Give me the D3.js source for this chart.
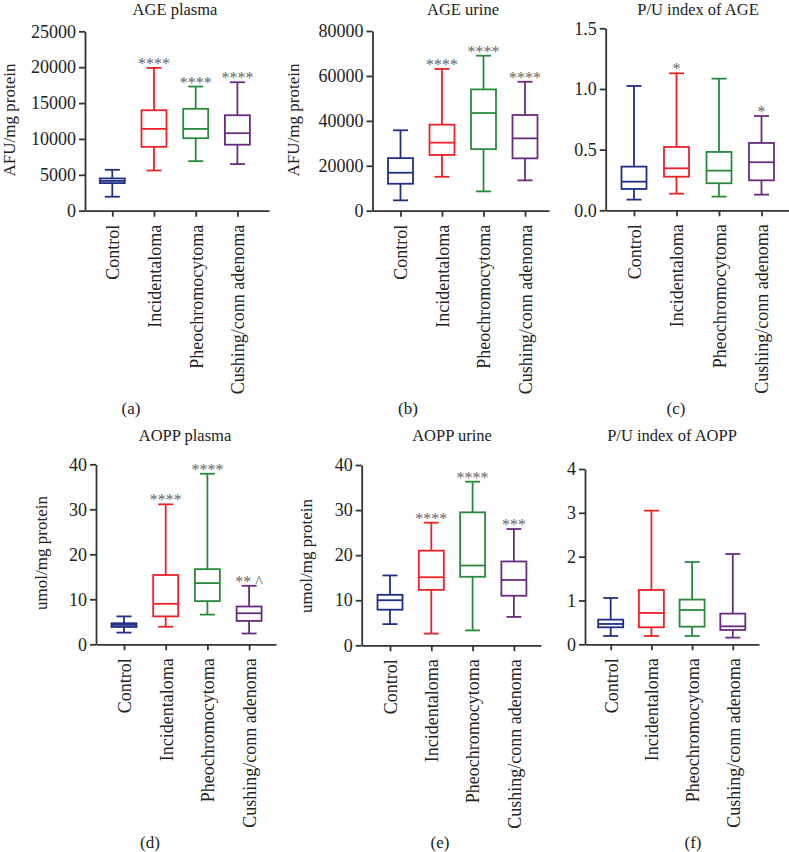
<!DOCTYPE html>
<html lang="en">
<head>
<meta charset="UTF-8">
<title>AGE / AOPP box plots</title>
<script src="https://cdn.jsdelivr.net/npm/d3@7"></script>
<style>
    body { margin: 0; background: #fff; }
    svg text { font-family: "Liberation Serif", "Times New Roman", serif; }
</style>
</head>
<body>
<svg id="chart" width="789" height="852"></svg>
<script>
    // groups (x axis of every panel)
    const categories = ["Control", "Incidentaloma", "Pheochromocytoma", "Cushing/conn adenoma"]
    const groupColors = ["#1f2f86", "#ec2227", "#2a8a3b", "#6a2c7e"]

    // box values per group: [min, q1, median, q3, max]
    const agePlasma = [[1950, 3850, 4150, 4500, 5700], [5600, 8900, 11400, 14000, 19900],
        [6900, 10100, 11400, 14200, 17300], [6500, 9200, 10800, 13300, 17900]]
    const ageUrine = [[4600, 12000, 16900, 23400, 35800], [15100, 24800, 30300, 38300, 63100],
        [8600, 27400, 43500, 54000, 69000], [13500, 23300, 32200, 42600, 57400]]
    const ageIndex = [[0.088, 0.176, 0.236, 0.36, 1.025], [0.137, 0.277, 0.346, 0.522, 1.129],
        [0.113, 0.223, 0.327, 0.481, 1.085], [0.129, 0.247, 0.396, 0.555, 0.777]]
    const aoppPlasma = [[2.6, 3.85, 4.3, 4.67, 6.2], [3.9, 6.2, 9.0, 15.4, 31.1],
        [6.6, 9.6, 13.6, 16.7, 37.9], [2.4, 5.2, 6.9, 8.4, 13.0]]
    const aoppUrine = [[4.7, 7.9, 10.0, 11.2, 15.5], [2.6, 12.3, 15.1, 21.0, 27.2],
        [3.3, 15.2, 17.7, 29.5, 36.3], [6.3, 11.0, 14.5, 18.6, 25.8]]
    const aoppIndex = [[0.19, 0.388, 0.464, 0.563, 1.057], [0.19, 0.388, 0.715, 1.24, 3.05],
        [0.19, 0.403, 0.783, 1.02, 1.878], [0.152, 0.327, 0.41, 0.70, 2.06]]

    // significance marks above the whiskers
    const agePlasmaSig = ["", "****", "****", "****"]
    const ageUrineSig = ["", "****", "****", "****"]
    const ageIndexSig = ["", "*", "", "*"]
    const aoppPlasmaSig = ["", "****", "****", "** ^"]
    const aoppUrineSig = ["", "****", "****", "***"]
    const aoppIndexSig = ["", "", "", ""]

    // y ticks
    const agePlasmaTicks = [0, 5000, 10000, 15000, 20000, 25000]
    const ageUrineTicks = [0, 20000, 40000, 60000, 80000]
    const ageIndexTicks = [0, 0.5, 1.0, 1.5]
    const aoppTicks = [0, 10, 20, 30, 40]
    const aoppIndexTicks = [0, 1, 2, 3, 4]

    const panels = [
        { title: "AGE plasma", ylab: "AFU/mg protein", tag: "(a)", data: agePlasma, sig: agePlasmaSig, ticks: agePlasmaTicks, fmt: d3.format("d"),
          x0: 85, x1: 269, first: 112.3, step: 41.7, y0: 210.7, y1: 31.3, labX: 15, labY: 120, titleX: 175, titleY: 15, tagX: 131, tagY: 414 },
        { title: "AGE urine", ylab: "AFU/mg protein", tag: "(b)", data: ageUrine, sig: ageUrineSig, ticks: ageUrineTicks, fmt: d3.format("d"),
          x0: 372.5, x1: 549, first: 400.5, step: 41.5, y0: 210.7, y1: 31, labX: 299, labY: 120, titleX: 463, titleY: 15, tagX: 408, tagY: 414 },
        { title: "P/U index of AGE", ylab: "", tag: "(c)", data: ageIndex, sig: ageIndexSig, ticks: ageIndexTicks, fmt: d3.format(".1f"),
          x0: 605.7, x1: 789, first: 634, step: 42.5, y0: 210.3, y1: 28.3, labX: 0, labY: 0, titleX: 698, titleY: 15, tagX: 676, tagY: 414 },
        { title: "AOPP plasma", ylab: "umol/mg protein", tag: "(d)", data: aoppPlasma, sig: aoppPlasmaSig, ticks: aoppTicks, fmt: d3.format("d"),
          x0: 96, x1: 276, first: 124, step: 41.7, y0: 644.3, y1: 464.3, labX: 47, labY: 553, titleX: 185, titleY: 441, tagX: 150, tagY: 848 },
        { title: "AOPP urine", ylab: "umol/mg protein", tag: "(e)", data: aoppUrine, sig: aoppUrineSig, ticks: aoppTicks, fmt: d3.format("d"),
          x0: 361.7, x1: 541, first: 390, step: 41.3, y0: 645.3, y1: 465, labX: 312, labY: 556, titleX: 452, titleY: 441, tagX: 440, tagY: 848 },
        { title: "P/U index of AOPP", ylab: "", tag: "(f)", data: aoppIndex, sig: aoppIndexSig, ticks: aoppIndexTicks, fmt: d3.format("d"),
          x0: 585, x1: 759, first: 610.7, step: 40.7, y0: 644.3, y1: 469, labX: 0, labY: 0, titleX: 672, titleY: 441, tagX: 693, tagY: 848 }
    ]

    const svg = d3.select("#chart")
    const axisColor = "#333"
    const boxW = 25, capW = 15

    panels.forEach(function (p) {
        const w = p.x1 - p.x0
        const pad = (w / p.step - 3) / 2
        const align = (p.first - p.x0) / (w - 3 * p.step)
        const x = d3.scalePoint().domain(categories).range([p.x0, p.x1]).padding(pad).align(align)
        const top = p.ticks[p.ticks.length - 1]
        const y = d3.scaleLinear().domain([0, top]).range([p.y0, p.y1])

        const g = svg.append("g")

        // boxes
        p.data.forEach(function (v, i) {
            const cx = x(categories[i])
            const col = groupColors[i]
            const b = g.append("g").attr("fill", "none").attr("stroke", col).attr("stroke-width", 1.8)
            b.append("line").attr("x1", cx).attr("x2", cx).attr("y1", y(v[0])).attr("y2", y(v[1]))
            b.append("line").attr("x1", cx).attr("x2", cx).attr("y1", y(v[3])).attr("y2", y(v[4]))
            b.append("line").attr("x1", cx - capW / 2).attr("x2", cx + capW / 2).attr("y1", y(v[0])).attr("y2", y(v[0]))
            b.append("line").attr("x1", cx - capW / 2).attr("x2", cx + capW / 2).attr("y1", y(v[4])).attr("y2", y(v[4]))
            b.append("rect").attr("x", cx - boxW / 2).attr("width", boxW)
                .attr("y", y(v[3])).attr("height", y(v[1]) - y(v[3]))
            b.append("line").attr("x1", cx - boxW / 2).attr("x2", cx + boxW / 2).attr("y1", y(v[2])).attr("y2", y(v[2]))

            if (p.sig[i]) {
                g.append("text").attr("x", cx).attr("y", y(v[4]) + 1)
                    .attr("text-anchor", "middle").attr("font-size", 16).attr("fill", "#666")
                    .text(p.sig[i])
            }
        })

        // y axis
        const ya = g.append("g").attr("transform", `translate(${p.x0},0)`)
            .call(d3.axisLeft(y).tickValues(p.ticks).tickFormat(p.fmt).tickSize(6).tickSizeOuter(0).tickPadding(3))
        ya.select(".domain").attr("stroke", axisColor).attr("stroke-width", 1.8)
        ya.selectAll(".tick line").attr("stroke", axisColor).attr("stroke-width", 1.8)
        ya.selectAll(".tick text").attr("font-size", 18).attr("fill", "#222")
            .style("font-family", "'Liberation Serif', serif")

        // x axis
        const xa = g.append("g").attr("transform", `translate(0,${p.y0})`)
            .call(d3.axisBottom(x).tickSize(6).tickSizeOuter(0))
        xa.select(".domain").attr("stroke", axisColor).attr("stroke-width", 1.8)
        xa.selectAll(".tick line").attr("stroke", axisColor).attr("stroke-width", 1.8)
        xa.selectAll(".tick text")
            .attr("transform", "rotate(-90)")
            .attr("text-anchor", "end")
            .attr("x", -14).attr("y", 0).attr("dy", "0.35em")
            .attr("font-size", 18).attr("fill", "#222")
            .style("font-family", "'Liberation Serif', serif")

        // titles and labels
        g.append("text").attr("x", p.titleX).attr("y", p.titleY).attr("text-anchor", "middle")
            .attr("font-size", 16.5).attr("fill", "#222").text(p.title)
        if (p.ylab) {
            g.append("text").attr("transform", `translate(${p.labX},${p.labY}) rotate(-90)`)
                .attr("text-anchor", "middle").attr("font-size", 17).attr("fill", "#222").text(p.ylab)
        }
        g.append("text").attr("x", p.tagX).attr("y", p.tagY).attr("text-anchor", "middle")
            .attr("font-size", 17).attr("fill", "#222").text(p.tag)
    })
</script>
</body>
</html>
